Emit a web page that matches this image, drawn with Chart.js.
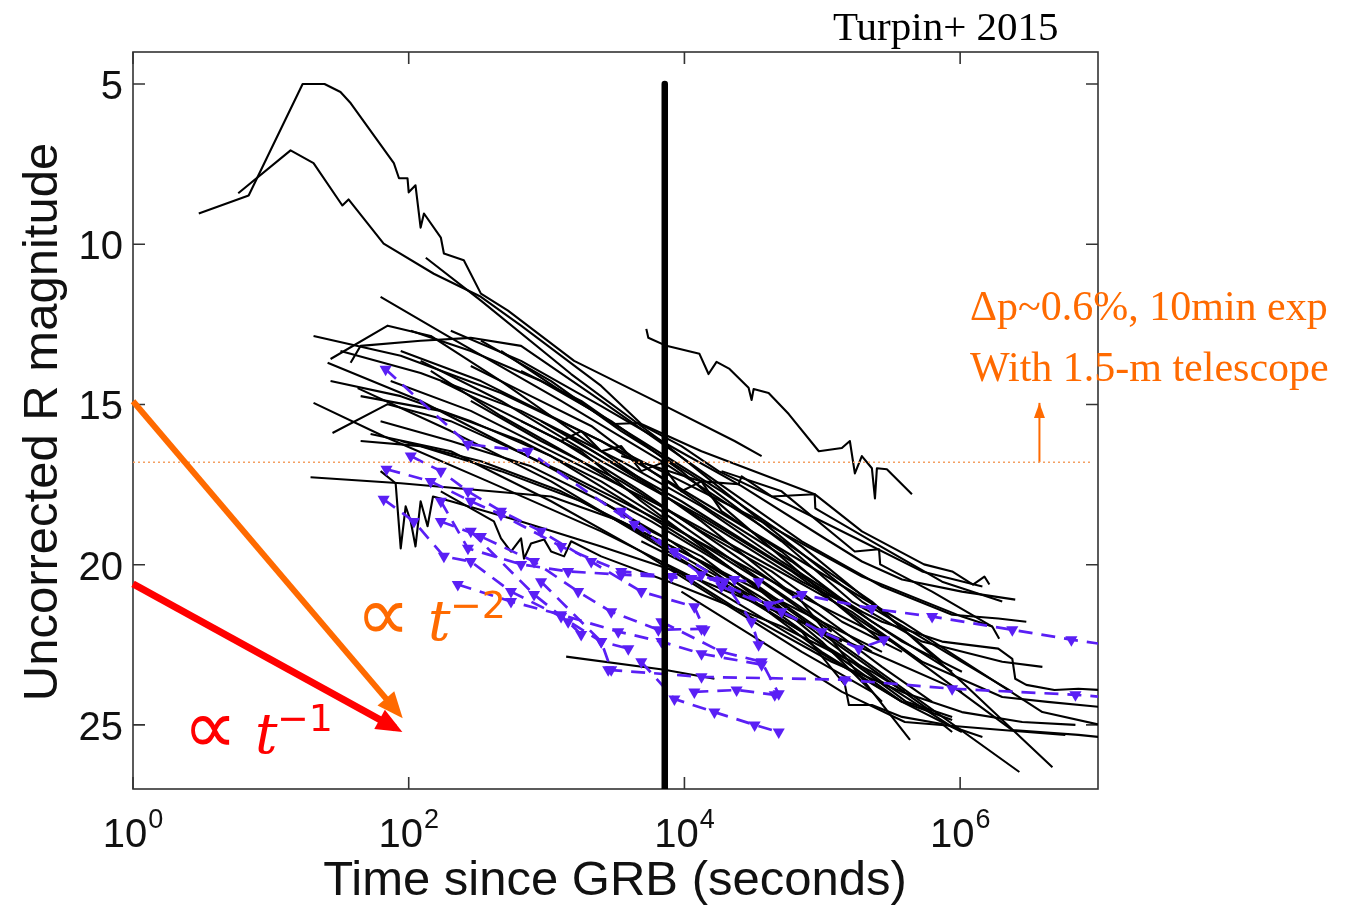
<!DOCTYPE html>
<html>
<head>
<meta charset="utf-8">
<script src="https://cdn.jsdelivr.net/npm/chart.js@4.4.1/dist/chart.umd.min.js"></script>
<style>
  body { margin: 0; background: #fff; }
  #wrap { width: 1348px; height: 906px; }
</style>
</head>
<body>
<div id="wrap"><canvas id="grbChart" width="1348" height="906"></canvas></div>
<script>
// axis ticks
const xTicks = [1, 1e2, 1e4, 1e6];
const xTickExp = ['0', '2', '4', '6'];
const yTicks = [5, 10, 15, 20, 25];

// optical afterglow light curves, [seconds since GRB, R mag]
const lightCurves = [
  [[3.0,9.04],[6.9,8.48],[17,5.0],[24.5,5.0],[32,5.25],[38,5.6],[78,7.47],[85,7.94],[98,7.94],[100,8.38],[112,8.16],[122,9.48],[129,9.04],[171,9.79],[180,10.29],[251,10.5],[334,11.54],[525,12.07],[1585,13.64],[6800,14.99],[23100,16.14],[36300,16.61]],
  [[5.8,8.41],[13.9,7.07],[20.4,7.47],[33,8.79],[36.6,8.6],[65.8,9.98],[152,10.92],[334,11.64],[653,12.54],[2490,14.42],[4866,15.61],[13300,16.46],[88100,17.8],[194000,18.96],[547000,19.99],[875000,20.21],[1.24e6,20.62],[1.5e6,20.37],[1.63e6,20.62]],
  [[5290,12.64],[5470,12.92],[7400,13.17],[12850,13.42],[14960,14.05],[17100,13.67],[21240,13.89],[29200,14.48],[30700,14.86],[31750,14.52],[40800,14.64],[57100,15.3],[94400,16.46],[138700,16.36],[158500,16.14],[172300,17.15],[193600,16.61],[229000,16.99],[241000,17.93],[249000,16.99],[294000,17.02],[447000,17.8]],
  [[133,10.42],[334,11.76],[1507,14.05],[6802,16.14],[36300,18.65],[194000,21.15],[1.03e6,23.03],[2.39e6,23.97]],
  [[62.5,11.64],[202,12.92],[1274,14.89],[6802,16.77],[36300,18.8],[229000,21.15],[1.03e6,23.66],[4.67e6,26.32]],
  [[20.4,12.86],[87.5,13.48],[467,14.64],[2490,16.14],[13300,18.02],[71000,19.9],[379000,21.78],[3.95e6,24.6],[1.04e7,25.0]],
  [[27.1,13.58],[70.4,12.54],[144.5,12.86],[467,14.27],[2490,16.46],[13300,18.65],[71000,21.15],[433000,25.47]],
  [[25.8,13.7],[122,14.89],[1079,16.99],[5754,18.65],[30700,20.53],[164000,22.72],[2.69e6,26.47]],
  [[20.4,14.95],[65.8,15.99],[376,17.4],[2490,18.96],[13300,20.53],[71000,22.4],[379000,24.28],[875000,24.85]],
  [[28,15.89],[70.4,14.99],[202,15.52],[1274,17.08],[6802,18.65],[50700,20.68],[320000,22.4],[2.39e6,25.16],[7.21e6,25.31],[1.04e7,25.38]],
  [[19.4,17.27],[87.5,17.46],[1079,17.87],[3481,18.65],[13300,19.9],[71000,21.47],[271000,22.72]],
  [[1387,22.87],[7160,23.28],[16500,23.56]],
  [[62.5,17.08],[80.4,17.46],[87.5,19.49],[95,18.18],[103.5,18.65],[112,19.43],[122,18.02],[137,18.8],[150,17.87],[202,18.02],[653,18.65],[2490,19.43],[11245,20.37],[50700,21.53],[271000,22.87],[1.03e6,23.97]],
  [[171,17.71],[415,18.65],[467,19.18],[552,19.59],[653,19.18],[686,19.81],[771,19.34],[959,19.21],[1079,19.59],[1340,19.74],[1507,19.27],[2490,19.74],[9509,20.68],[50700,21.93],[229000,23.34],[397000,23.97]],
  [[37.9,13.7],[44.8,13.17],[122,13.01],[282,12.92],[653,13.17],[2490,14.89],[13300,17.08],[71000,19.27],[271000,20.68],[875000,21.56],[1.89e6,21.68],[3.02e6,21.78]],
  [[87.5,13.33],[334,14.27],[1274,15.52],[6802,17.08],[36300,18.65],[194000,20.37],[1.03e6,21.62],[1.71e6,21.93],[1.92e6,22.31]],
  [[74,14.27],[282,15.2],[1274,16.61],[6802,18.18],[36300,19.9],[164000,21.47],[529000,23.03],[2.02e6,24.13],[4.3e6,24.28],[1.04e7,24.44]],
  [[202,12.7],[653,13.64],[2490,15.05],[6802,16.14],[26000,17.55],[99100,19.12],[194000,19.9],[379000,20.46],[1.03e6,20.84],[2.51e6,21.09]],
  [[334,13.01],[1079,14.27],[3481,15.83],[13300,17.4],[50700,19.27],[164000,21.15],[529000,22.4],[2.02e6,23.03],[3.95e6,23.19]],
  [[653,13.95],[1782,14.89],[3097,15.61],[4627,15.58],[9509,16.3],[17660,17.08],[50700,18.02],[194000,19.27],[529000,20.21],[1.45e6,20.68]],
  [[1274,15.83],[4866,17.4],[18580,18.96],[71000,20.53],[271000,21.78],[740000,22.4],[1.89e6,22.62],[2.39e6,22.94],[2.51e6,23.56],[3.02e6,23.75],[4.83e6,23.91],[7.21e6,23.87],[1.04e7,23.91]],
  [[3481,16.61],[13300,17.4],[24700,17.49],[26000,17.24],[42950,17.87],[88100,17.8],[89000,18.24],[229000,19.27],[740000,20.53],[2.02e6,21.15]],
  [[18580,17.08],[50700,17.71],[172000,19.59],[258000,19.52],[263000,19.99],[626000,20.84],[1.71e6,21.93]],
  [[4866,19.27],[18580,20.53],[71000,22.09],[146000,23.75],[156000,24.38],[229000,24.38],[379000,24.75],[740000,24.97],[875000,25.22]],
  [[6802,19.9],[26000,21.47],[117000,23.03],[379000,23.97],[1.03e6,24.6],[2.82e6,24.91],[6.86e6,25.0]],
  [[9509,20.84],[36300,22.4],[139000,23.97],[397000,24.91],[2.02e6,25.16],[5.8e6,25.31]],
  [[42.6,14.49],[202,15.83],[1079,17.4],[5754,19.27],[30700,21.15],[164000,23.03],[407000,24.28],[875000,24.75]],
  [[52.9,15.92],[202,16.46],[1079,18.02],[4866,19.59],[18580,21.15],[71000,22.72],[229000,23.97]],
  [[87.5,16.14],[334,16.77],[1274,17.71],[3481,18.65],[13300,19.9],[71000,21.78],[271000,23.66],[875000,25.06],[1.45e6,25.38]],
  [[122,13.64],[467,14.89],[2490,16.77],[13300,18.49],[60000,20.21],[194000,21.78],[529000,23.03]],
  [[467,13.33],[1274,14.58],[4866,16.14],[18580,17.71],[71000,19.43],[271000,21.47],[740000,23.03]],
  [[282,14.89],[912,16.14],[3481,17.4],[13300,18.96],[42950,20.21],[139000,21.78],[379000,22.72]],
  [[44.8,16.14],[122,16.3],[467,17.08],[1782,18.02],[7200,19.43],[36300,21.15],[139000,22.4]],
  [[912,15.52],[2490,16.61],[9509,18.02],[36300,19.59],[139000,21.15],[379000,22.4],[1.03e6,23.34]],
  [[144.5,13.95],[467,15.36],[1782,16.77],[6802,18.33],[26000,20.06],[99100,21.78],[271000,23.19],[626000,24.28]],
  [[32,13.33],[122,14.02],[653,15.2],[3481,16.77],[13300,18.18],[50700,19.9],[194000,21.47]],
  [[44.8,14.74],[171,15.2],[653,16.14],[2490,17.4],[9509,18.96],[36300,20.53],[117000,22.09]],
  [[103.5,12.7],[282,13.33],[912,14.27],[2944,15.52],[9509,17.08],[30700,18.96],[99100,20.84],[271000,22.4]],
  [[171,14.27],[467,15.2],[1274,16.14],[4866,17.71],[18580,19.43],[71000,21.15],[229000,22.72]],
  [[282,13.8],[771,14.74],[2107,15.67],[5754,17.08],[15710,18.33],[60000,19.9],[229000,21.78],[875000,23.34]],
  [[653,15.52],[1782,16.46],[4866,18.02],[13300,19.43],[36300,20.84],[99100,22.4],[271000,24.28]],
  [[62.5,15.52],[202,16.14],[771,16.93],[2490,18.02],[8043,19.27],[26000,20.84],[99100,22.72],[379000,24.28],[1.03e6,25.22]],
  [[1274,16.14],[1782,15.83],[2490,16.46],[3481,16.3],[4866,17.08],[6802,16.83],[9509,17.71],[13300,17.4],[18580,18.33],[50700,19.59],[139000,21.15]],
  [[2490,18.02],[5754,18.96],[13300,19.74],[36300,21.15],[117000,22.72],[379000,24.28]],
  [[27.1,14.27],[87.5,14.74],[282,15.52],[1079,16.61],[4866,18.33],[18580,19.9],[60000,21.47],[194000,23.03],[626000,24.6]]
];

// upper limits (dashed, triangles)
const upperLimits = [
  [[68,13.9],[269,16.24],[733,16.46],[4330,18.74],[13300,20.31],[40800,21.25],[71000,20.93],[229000,21.37],[626000,21.62],[2.39e6,22.03],[6.41e6,22.34],[1.04e7,22.47]],
  [[69,17.02],[144.5,17.4],[282,18.02],[467,18.43],[1274,19.43],[3481,20.21],[8043,20.37],[23100,20.46]],
  [[2800,23.28],[13300,23.5],[146000,23.59],[875000,23.87],[6.86e6,24.06],[1.04e7,24.12]],
  [[4866,23.03],[8460,24.19],[16500,24.6],[32300,25.0],[48300,25.22]],
  [[65.8,17.96],[109,18.65],[180,19.74],[282,19.9],[552,20.84],[1274,21.62],[2490,22.4],[3915,22.62]],
  [[3481,18.33],[8460,19.59],[19500,20.53],[30700,21.78],[34500,22.5]],
  [[103.5,16.61],[171,17.08],[269,17.71],[467,18.33],[912,18.96],[2107,19.9],[4866,20.84],[11800,21.31],[13970,22.03]],
  [[171,18.02],[269,19.49],[653,19.99],[1433,20.21],[3481,20.31],[11245,20.43],[34500,20.53]],
  [[227,20.62],[552,21.15],[1274,21.56],[3310,22.09],[6802,22.4],[13300,22.78],[36300,23.12]],
  [[171,18.65],[334,19.12],[811,19.9],[1694,20.84],[2944,21.47],[6470,22.03],[13300,22.0]],
  [[282,18.96],[811,20.93],[1433,21.78],[1782,22.18]],
  [[6802,21.78],[18580,22.72],[36300,23.03],[48300,24.03]],
  [[912,20.53],[2490,22.4],[2944,23.28]],
  [[18580,20.68],[50700,21.47],[99100,22.09],[184000,22.62],[280000,22.34]],
  [[11800,23.97],[23900,23.91],[45200,24.06]]
];

// 2 hours after the burst
const twoHourMark = [[7200,5],[7200,27]];
// polarimetry limit and its arrow
const limitLine = [[1,16.8],[8.8e6,16.8]];
const limitArrow = [[3.76e6,16.8],[3.76e6,14.95]];
// decay guides
const slopeT2 = [[1,14.9],[83,24.6]];
const slopeT1 = [[1,20.6],[80,25.1]];

const BLUE = '#5a1ff5';
const ORANGE = '#ff6a00';
const toPts = arr => arr.map(([t, m]) => ({ x: t, y: m }));

const datasets = [];
lightCurves.forEach(c => datasets.push({
  data: toPts(c), showLine: true, borderColor: '#000', borderWidth: 2.1,
  pointRadius: 0, order: 3
}));
upperLimits.forEach(c => datasets.push({
  data: toPts(c), showLine: true, borderColor: BLUE, borderWidth: 2.7,
  borderDash: [14, 9], pointStyle: 'triangle', rotation: 180,
  pointRadius: ctx => (ctx.raw && ctx.raw.x > 1e7 ? 0 : 7),
  pointBackgroundColor: BLUE, pointBorderColor: BLUE, pointBorderWidth: 0, order: 2
}));
datasets.push({ data: toPts(twoHourMark), showLine: true, borderColor: '#000', borderWidth: 6.5, pointRadius: 0, order: 0 });
datasets.push({ data: toPts(limitLine), showLine: true, borderColor: '#f4a062', borderWidth: 1.5, borderDash: [2, 3], pointRadius: 0, order: 1, clip: 10 });
datasets.push({ data: toPts(limitArrow), showLine: true, borderColor: ORANGE, borderWidth: 2, pointRadius: 0, order: 1, head: [15, 11, 0] });
datasets.push({ data: toPts(slopeT2), showLine: true, borderColor: ORANGE, borderWidth: 6, pointRadius: 0, order: 0, clip: 10, head: [26, 22, 8] });
datasets.push({ data: toPts(slopeT1), showLine: true, borderColor: '#ff0000', borderWidth: 7, pointRadius: 0, order: 0, clip: 10, head: [26, 22, 8] });

const frame = {
  id: 'frame',
  beforeDatasetsDraw(chart) {
    const { ctx, chartArea: a, scales: { x, y } } = chart;
    ctx.save();
    ctx.strokeStyle = '#333';
    ctx.lineWidth = 1.6;
    ctx.strokeRect(a.left, a.top, a.right - a.left, a.bottom - a.top);
    ctx.beginPath();
    xTicks.forEach(v => {
      const px = x.getPixelForValue(v);
      ctx.moveTo(px, a.bottom); ctx.lineTo(px, a.bottom - 12);
      ctx.moveTo(px, a.top); ctx.lineTo(px, a.top + 12);
    });
    yTicks.forEach(v => {
      const py = y.getPixelForValue(v);
      ctx.moveTo(a.left, py); ctx.lineTo(a.left + 12, py);
      ctx.moveTo(a.right, py); ctx.lineTo(a.right - 12, py);
    });
    ctx.stroke();
    ctx.restore();
  }
};

const arrowHeads = {
  id: 'arrowHeads',
  afterDatasetsDraw(chart) {
    const ctx = chart.ctx;
    chart.data.datasets.forEach((ds, i) => {
      if (!ds.head) return;
      const pts = chart.getDatasetMeta(i).data;
      const a = pts[pts.length - 2], b = pts[pts.length - 1];
      const ang = Math.atan2(b.y - a.y, b.x - a.x);
      const [len, wid, ext] = ds.head;
      ctx.save();
      ctx.translate(b.x, b.y);
      ctx.rotate(ang);
      ctx.beginPath();
      ctx.moveTo(ext, 0);
      ctx.lineTo(ext - len, -wid / 2);
      ctx.lineTo(ext - len, wid / 2);
      ctx.closePath();
      ctx.fillStyle = ds.borderColor;
      ctx.fill();
      ctx.restore();
    });
  }
};

const labels = {
  id: 'labels',
  afterDraw(chart) {
    const { ctx, scales: { x, y } } = chart;
    ctx.save();
    ctx.fillStyle = '#111';
    // y tick labels
    ctx.font = '40px "Liberation Sans", Arial, sans-serif';
    ctx.textAlign = 'right';
    ctx.textBaseline = 'alphabetic';
    yTicks.forEach(v => ctx.fillText(String(v), 123, y.getPixelForValue(v) + 15));
    // x tick labels with exponent
    ctx.textAlign = 'left';
    xTicks.forEach((v, i) => {
      const px = x.getPixelForValue(v);
      ctx.font = '40px "Liberation Sans", Arial, sans-serif';
      const w10 = ctx.measureText('10').width;
      ctx.font = '27px "Liberation Sans", Arial, sans-serif';
      const wExp = ctx.measureText(xTickExp[i]).width;
      const x0 = px - (w10 + wExp + 1) / 2;
      ctx.font = '40px "Liberation Sans", Arial, sans-serif';
      ctx.fillText('10', x0, 847);
      ctx.font = '27px "Liberation Sans", Arial, sans-serif';
      ctx.fillText(xTickExp[i], x0 + w10 + 1, 828);
    });
    // axis titles
    ctx.font = '49px "Liberation Sans", Arial, sans-serif';
    ctx.textAlign = 'center';
    ctx.fillText('Time since GRB (seconds)', 615, 895, 594);
    ctx.save();
    ctx.translate(57, 422);
    ctx.rotate(-Math.PI / 2);
    ctx.fillText('Uncorrected R magnitude', 0, 0, 565);
    ctx.restore();
    // reference note
    ctx.textAlign = 'left';
    ctx.font = '41px "Liberation Serif", "Times New Roman", serif';
    ctx.fillStyle = '#000';
    ctx.fillText('Turpin+ 2015', 833, 40, 229);
    // polarimetry note
    ctx.fillStyle = ORANGE;
    ctx.font = '42px "Liberation Serif", "Times New Roman", serif';
    ctx.fillText('\u0394p~0.6%, 10min exp', 970, 320, 363);
    ctx.fillText('With 1.5-m telescope', 970, 381, 363);
    // slope labels
    const drawSlope = (color, x0, base, exp) => {
      ctx.fillStyle = color;
      ctx.font = '76px "DejaVu Sans", sans-serif';
      ctx.fillText('\u221D', x0 - 8, base);
      ctx.font = 'italic 56px "DejaVu Serif", serif';
      ctx.fillText('t', x0 + 64, base);
      ctx.font = '38px "DejaVu Sans", sans-serif';
      ctx.fillText('\u2212' + exp, x0 + 86, base - 22);
    };
    drawSlope(ORANGE, 364, 640, '2');
    drawSlope('#ff0000', 191, 753, '1');
    ctx.restore();
  }
};

new Chart(document.getElementById('grbChart'), {
  type: 'scatter',
  data: { datasets },
  options: {
    responsive: false,
    animation: false,
    events: [],
    devicePixelRatio: 1,
    layout: { padding: { left: 133, top: 52, right: 250, bottom: 117 } },
    elements: { line: { tension: 0, borderCapStyle: 'butt', borderJoinStyle: 'round' } },
    scales: {
      x: { type: 'logarithmic', min: 1, max: 1e7, display: false },
      y: { type: 'linear', min: 4, max: 27, reverse: true, display: false }
    },
    plugins: { legend: { display: false }, tooltip: { enabled: false } }
  },
  plugins: [frame, arrowHeads, labels]
});
</script>
</body>
</html>
